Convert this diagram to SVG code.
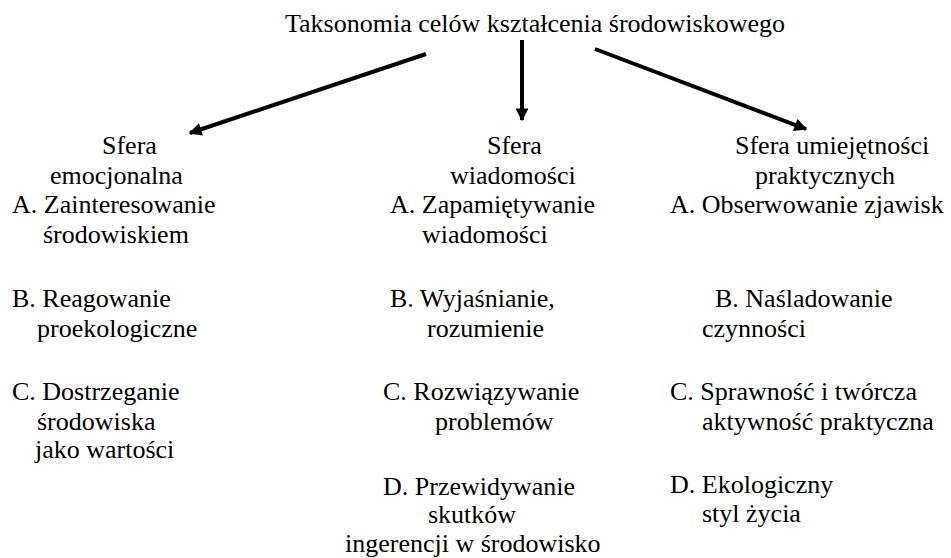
<svg xmlns="http://www.w3.org/2000/svg" width="951" height="558" viewBox="0 0 951 558">
<style>
text{font-family:'Liberation Serif','Times New Roman',serif;font-size:26px;fill:#000}
.c{stroke:#000;stroke-width:4;fill:none}
</style>
<defs>
<marker id="ah" viewBox="0 0 10 10" refX="9" refY="5" markerWidth="3.6" markerHeight="3.2" orient="auto" markerUnits="strokeWidth">
<path d="M0,0 L10,5 L0,10 z" fill="#000"/>
</marker>
</defs>
<rect width="951" height="558" fill="#fff"/>
<g id="title"><text x="535" y="32" text-anchor="middle">Taksonomia celów kształcenia środowiskowego</text></g>
<g id="connectors">
<line class="c" x1="426" y1="54" x2="190" y2="133" marker-end="url(#ah)"/>
<line class="c" x1="522" y1="40" x2="522" y2="120" marker-end="url(#ah)"/>
<line class="c" x1="595" y1="49" x2="806" y2="129" marker-end="url(#ah)"/>
</g>
<g id="emocjonalna">
<text x="102" y="154">Sfera</text>
<text x="50" y="184">emocjonalna</text>
<text x="12" y="213">A. Zainteresowanie</text>
<text x="43" y="243">środowiskiem</text>
<text x="12" y="307">B. Reagowanie</text>
<text x="37" y="337">proekologiczne</text>
<text x="12" y="400">C. Dostrzeganie</text>
<text x="37" y="430">środowiska</text>
<text x="35" y="458">jako wartości</text>
</g>
<g id="wiadomosci">
<text x="487" y="154">Sfera</text>
<text x="450" y="184">wiadomości</text>
<text x="390" y="213">A. Zapamiętywanie</text>
<text x="422" y="243">wiadomości</text>
<text x="390" y="307">B. Wyjaśnianie,</text>
<text x="427" y="337">rozumienie</text>
<text x="383" y="400">C. Rozwiązywanie</text>
<text x="435" y="430">problemów</text>
<text x="383" y="495">D. Przewidywanie</text>
<text x="428" y="523">skutków</text>
<text x="345" y="552">ingerencji w środowisko</text>
</g>
<g id="umiejetnosci">
<text x="735" y="154">Sfera umiejętności</text>
<text x="755" y="184">praktycznych</text>
<text x="670" y="213">A. Obserwowanie zjawisk</text>
<text x="715" y="307">B. Naśladowanie</text>
<text x="702" y="337">czynności</text>
<text x="670" y="400">C. Sprawność i twórcza</text>
<text x="702" y="430">aktywność praktyczna</text>
<text x="670" y="493">D. Ekologiczny</text>
<text x="702" y="522">styl życia</text>
</g>
</svg>
